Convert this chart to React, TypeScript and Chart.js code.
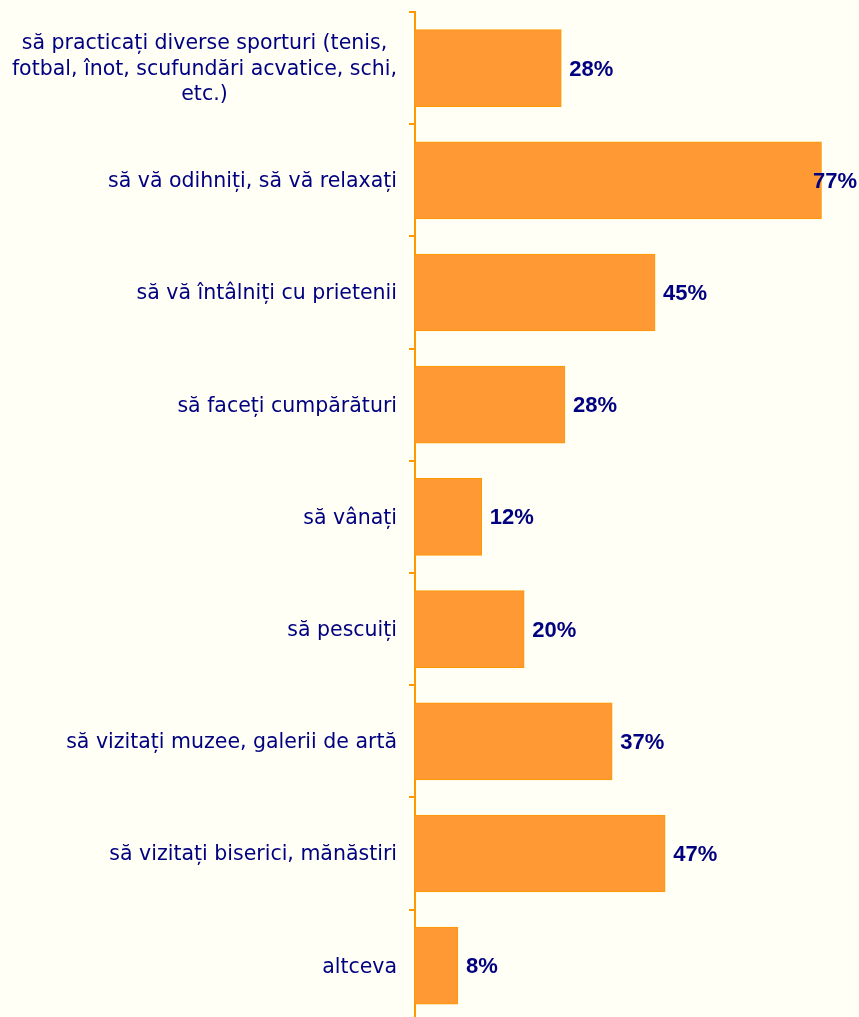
import React, { useEffect, useRef } from "react";
import { Chart, registerables } from "chart.js";

Chart.register(...registerables);

const categories: string[][] = [
  ["să practicați diverse sporturi (tenis,", "fotbal, înot, scufundări acvatice, schi,", "etc.)"],
  ["să vă odihniți, să vă relaxați"],
  ["să vă întâlniți cu prietenii"],
  ["să faceți cumpărături"],
  ["să vânați"],
  ["să pescuiți"],
  ["să vizitați muzee, galerii de artă"],
  ["să vizitați biserici, mănăstiri"],
  ["altceva"],
];

const values: number[] = [27.6, 76.7, 45.3, 28.3, 12.6, 20.6, 37.2, 47.2, 8.1];
const valueLabels: string[] = ["28%", "77%", "45%", "28%", "12%", "20%", "37%", "47%", "8%"];

const BG = "#FFFFF5";
const BAR = "#FF9933";
const BAR_BORDER = "#FF9900";
const AXIS = "#FF9900";
const TEXT = "#000080";
const FONT = "'DejaVu Sans', Verdana, sans-serif";
const VALUE_FONT = "'Liberation Sans', Arial, sans-serif";

const labelPlugin = {
  id: "customLabels",
  afterDraw(chart: any) {
    const ctx = chart.ctx as CanvasRenderingContext2D;
    const yScale = chart.scales.y;
    ctx.save();
    // category labels
    ctx.fillStyle = TEXT;
    ctx.font = `20.5px ${FONT}`;
    ctx.textBaseline = "middle";
    ctx.textAlign = "center";
    const rightEdge = 397;
    const lineH = 25.5;
    categories.forEach((lines, i) => {
      const cy = yScale.getPixelForValue(i) + 1.5;
      const maxW = Math.max(...lines.map((l) => ctx.measureText(l).width));
      const cx = rightEdge - maxW / 2;
      const startY = cy - ((lines.length - 1) * lineH) / 2;
      lines.forEach((l, j) => ctx.fillText(l, cx, startY + j * lineH));
    });
    // value labels
    ctx.font = `bold 22px ${VALUE_FONT}`;
    ctx.textAlign = "left";
    const meta = chart.getDatasetMeta(0);
    meta.data.forEach((bar: any, i: number) => {
      const txt = valueLabels[i];
      const w = ctx.measureText(txt).width;
      let x = bar.x + 8;
      if (x + w > chart.width - 2) x = chart.width - 2 - w;
      ctx.fillText(txt, x, bar.y + 1.5);
    });
    ctx.restore();
  },
};

export default function App() {
  const canvasRef = useRef<HTMLCanvasElement | null>(null);

  useEffect(() => {
    document.body.style.margin = "0";
    document.body.style.background = BG;
    const canvas = canvasRef.current!;
    const chart = new Chart(canvas, {
      type: "bar",
      data: {
        labels: categories.map((c) => c.join(" ")),
        datasets: [
          {
            data: values,
            backgroundColor: BAR,
            borderColor: BAR_BORDER,
            borderWidth: 1,
            borderSkipped: "start",
            barThickness: 77,
          },
        ],
      },
      options: {
        indexAxis: "y",
        responsive: false,
        animation: false,
        layout: { padding: { top: 12, bottom: 3, left: 0, right: 20 } },
        plugins: {
          legend: { display: false },
          tooltip: { enabled: false },
        },
        scales: {
          x: {
            display: false,
            min: 0,
            max: 80,
          },
          y: {
            offset: true,
            afterFit(scale: any) {
              scale.width = 415;
            },
            ticks: {
              color: "transparent",
              callback: () => "",
            },
            grid: {
              display: true,
              offset: true,
              drawOnChartArea: false,
              drawTicks: true,
              tickLength: 6,
              color: AXIS,
              lineWidth: 2,
            },
            border: { display: true, color: AXIS, width: 2 },
          },
        },
      },
      plugins: [labelPlugin],
    });
    return () => chart.destroy();
  }, []);

  return (
    <div style={{ width: 859, height: 1017, overflow: "hidden", background: BG, position: "relative" }}>
      <canvas ref={canvasRef} width={859} height={1032} style={{ display: "block", width: 859, height: 1032 }} />
    </div>
  );
}
